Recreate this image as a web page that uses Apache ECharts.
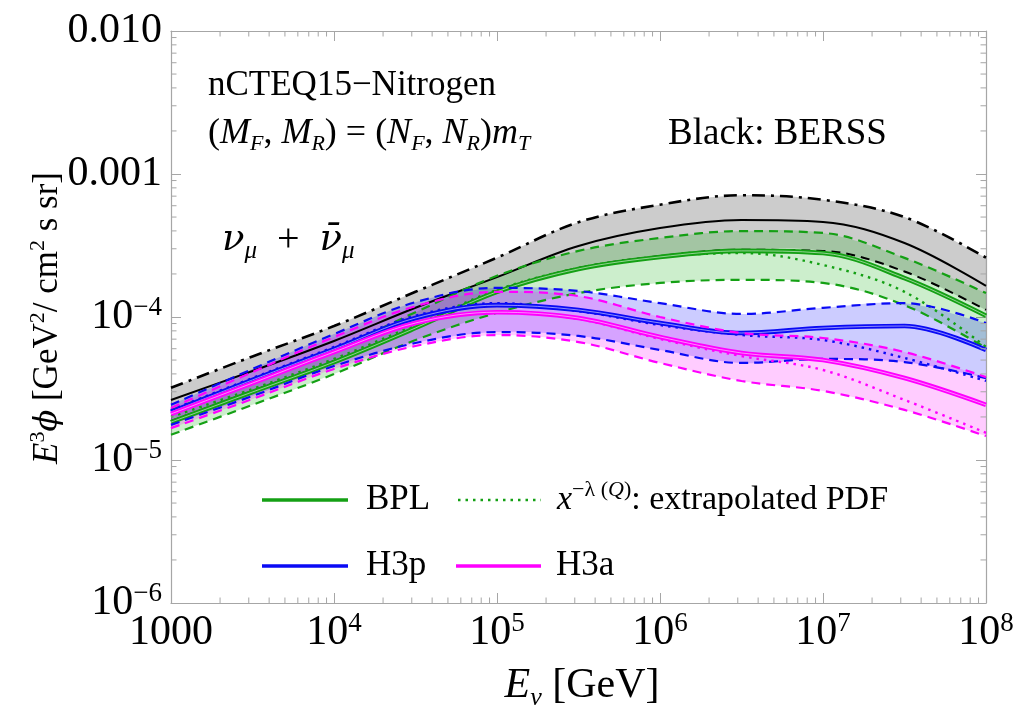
<!DOCTYPE html>
<html><head><meta charset="utf-8">
<script src="https://cdn.jsdelivr.net/npm/echarts@6/dist/echarts.min.js"></script>
<style>html,body{margin:0;padding:0;background:#fff}#c{width:1014px;height:708px}</style>
</head><body><div id="c"></div>
<script>
// ---- data (E in GeV, E^3 phi in GeV^2 / cm^2 s sr) ----
const energy = [1000, 3162, 10000, 31623, 100000, 316228, 1000000, 3162278, 10000000, 31622777, 100000000];

const berssUpper   = [3.2e-5, 5.3e-5, 8.65e-5, 1.5e-4, 2.6e-4, 4.6e-4, 6.1e-4, 7.1e-4, 6.6e-4, 5.0e-4, 2.6e-4];
const berssCentral = [2.63e-5, 4.19e-5, 6.8e-5, 1.16e-4, 1.9e-4, 3.14e-4, 4.19e-4, 4.77e-4, 4.62e-4, 3.29e-4, 1.65e-4];
const berssLower   = [1.87e-5, 3.04e-5, 4.92e-5, 8.5e-5, 1.52e-4, 2.2e-4, 2.67e-4, 2.95e-4, 2.9e-4, 2.08e-4, 1.12e-4];

const bplUpper   = [2.24e-5, 3.63e-5, 5.88e-5, 1.08e-4, 1.94e-4, 2.9e-4, 3.57e-4, 3.99e-4, 3.87e-4, 2.59e-4, 1.47e-4];
const bplCentral = [1.84e-5, 2.99e-5, 4.84e-5, 8.38e-5, 1.5e-4, 2.17e-4, 2.63e-4, 2.9e-4, 2.8e-4, 1.87e-4, 1.02e-4];
const bplLower   = [1.5e-5, 2.43e-5, 3.99e-5, 6.9e-5, 1.07e-4, 1.47e-4, 1.73e-4, 1.82e-4, 1.73e-4, 1.21e-4, 6.07e-5];
const bplExtrap  = [2.0e-5, 3.14e-5, 5.09e-5, 8.79e-5, 1.545e-4, 2.2e-4, 2.63e-4, 2.8e-4, 2.31e-4, 1.5e-4, 6.17e-5];

const h3pUpper   = [2.43e-5, 4.33e-5, 7.6e-5, 1.27e-4, 1.6e-4, 1.52e-4, 1.25e-4, 1.05e-4, 1.16e-4, 1.25e-4, 9.08e-5];
const h3pCentral = [2.17e-5, 3.63e-5, 5.97e-5, 9.84e-5, 1.21e-4, 1.12e-4, 9.08e-5, 7.73e-5, 8.38e-5, 8.65e-5, 5.88e-5];
const h3pLower   = [1.76e-5, 2.8e-5, 4.54e-5, 6.58e-5, 7.85e-5, 7.37e-5, 5.88e-5, 4.77e-5, 5.09e-5, 4.84e-5, 3.74e-5];
const h3pExtrap  = [2.24e-5, 3.74e-5, 6.17e-5, 1.02e-4, 1.25e-4, 1.1e-4, 8.79e-5, 7.48e-5, 6.9e-5, 5.17e-5, 3.57e-5];

const h3aUpper   = [2.31e-5, 4.12e-5, 7.25e-5, 1.19e-4, 1.5e-4, 1.4e-4, 1.0e-4, 7.73e-5, 7.13e-5, 5.69e-5, 3.8e-5];
const h3aCentral = [2.1e-5, 3.45e-5, 5.69e-5, 9.08e-5, 1.08e-4, 9.84e-5, 7.25e-5, 5.6e-5, 5.0e-5, 3.74e-5, 2.43e-5];
const h3aLower   = [1.67e-5, 2.67e-5, 4.33e-5, 6.27e-5, 7.48e-5, 6.68e-5, 4.77e-5, 3.57e-5, 3.04e-5, 2.24e-5, 1.47e-5];
const h3aExtrap  = [2.1e-5, 3.45e-5, 5.69e-5, 9.08e-5, 1.08e-4, 9.68e-5, 7.02e-5, 5.33e-5, 4.26e-5, 2.63e-5, 1.55e-5];

// tick labels: [base, superscript]
const xTickValues = [1e3, 1e4, 1e5, 1e6, 1e7, 1e8];
const xTickLabels = [['1000', ''], ['10', '4'], ['10', '5'], ['10', '6'], ['10', '7'], ['10', '8']];
const yTickValues = [1e-6, 1e-5, 1e-4, 1e-3, 1e-2];
const yTickLabels = [['10', '\u22126'], ['10', '\u22125'], ['10', '\u22124'], ['0.001', ''], ['0.010', '']];
// minor tick multipliers inside each decade
const minorSteps = [2, 3, 4, 5, 6, 7, 8, 9];

// ---- drawing ----
const FONT = '"Liberation Serif", "Times New Roman", serif';
const SMOOTH = 0.35;
const GREEN = '#14a014', BLUE = '#0a0af5', MAGENTA = '#ff00ff', BLACK = '#000000';
const FRAME = '#a6a6a6';
const X_MIN = 1e3, X_MAX = 1e8, Y_MIN = 1e-6, Y_MAX = 1e-2;

function tickLabel(v, vals, labels) {
  const lv = Math.log10(v);
  for (let i = 0; i < vals.length; i++) {
    if (Math.abs(Math.log10(vals[i]) - lv) < 1e-6) {
      const [b, s] = labels[i];
      return s ? '{m|' + b + '}{s|' + s + '}' : '{m|' + b + '}';
    }
  }
  return '';
}
const labelRich = {
  m: { fontFamily: FONT, fontSize: 42, color: '#000', lineHeight: 46 },
  s: { fontFamily: FONT, fontSize: 27, color: '#000', lineHeight: 25, verticalAlign: 'top' }
};
function axisCommon(extra) {
  return Object.assign({
    type: 'log', logBase: 10,
    axisLine: { show: true, onZero: false, lineStyle: { color: FRAME, width: 1.2 } },
    axisTick: { show: true, inside: true, length: 10, lineStyle: { color: FRAME, width: 1 } },
    minorTick: { show: false },
    splitLine: { show: false }, minorSplitLine: { show: false }
  }, extra);
}

// minor tick positions built from the decade boundaries
const minorX = [], minorY = [];
for (let d = Math.log10(X_MIN); d < Math.log10(X_MAX); d++) minorSteps.forEach(k => minorX.push(k * Math.pow(10, d)));
for (let d = Math.log10(Y_MIN); d < Math.log10(Y_MAX); d++) minorSteps.forEach(k => minorY.push(k * Math.pow(10, d)));

function minorTickSeries() {
  return {
    type: 'custom', coordinateSystem: 'cartesian2d', data: [[1e4, 1e-4]], z: 10, silent: true, clip: false,
    renderItem: function (params, api) {
      const children = [];
      const L = 5.5;
      minorX.forEach(v => {
        const b = api.coord([v, Y_MIN]), t = api.coord([v, Y_MAX]);
        children.push({ type: 'line', shape: { x1: b[0], y1: b[1], x2: b[0], y2: b[1] - L }, style: { stroke: FRAME, lineWidth: 1 } });
        children.push({ type: 'line', shape: { x1: t[0], y1: t[1], x2: t[0], y2: t[1] + L }, style: { stroke: FRAME, lineWidth: 1 } });
      });
      minorY.forEach(v => {
        const l = api.coord([X_MIN, v]), r = api.coord([X_MAX, v]);
        children.push({ type: 'line', shape: { x1: l[0], y1: l[1], x2: l[0] + L, y2: l[1] }, style: { stroke: FRAME, lineWidth: 1 } });
        children.push({ type: 'line', shape: { x1: r[0], y1: r[1], x2: r[0] - L, y2: r[1] }, style: { stroke: FRAME, lineWidth: 1 } });
      });
      return { type: 'group', children: children };
    }
  };
}

function band(upper, lower, color) {
  return {
    type: 'custom', coordinateSystem: 'cartesian2d', xAxisIndex: 0, yAxisIndex: 0,
    data: [[10000, 1e-4]], z: 1, silent: true, clip: true,
    renderItem: function (params, api) {
      const up = energy.map((e, i) => api.coord([e, upper[i]]));
      const lo = energy.map((e, i) => api.coord([e, lower[i]])).reverse();
      const pts = [up[0]].concat(up, [up[up.length - 1], lo[0]], lo, [lo[lo.length - 1]]);
      return { type: 'polygon', shape: { points: pts, smooth: SMOOTH }, style: { fill: color } };
    }
  };
}
function line(vals, color, type, width, z, opacity) {
  return {
    type: 'line', data: energy.map((e, i) => [e, vals[i]]), symbol: 'none', showSymbol: false,
    smooth: SMOOTH, z: z, silent: true, clip: true,
    lineStyle: { color: color, width: width, type: type, opacity: opacity == null ? 1 : opacity }
  };
}
const DASH = [9, 6], DOT = [2.5, 5], DASHDOT = [13, 6, 3, 6];

const series = [
  band(berssUpper, berssLower, 'rgba(0,0,0,0.2)'),
  band(bplUpper, bplLower, 'rgba(0,170,0,0.2)'),
  band(h3pUpper, h3pLower, 'rgba(0,0,255,0.2)'),
  band(h3aUpper, h3aLower, 'rgba(255,0,255,0.2)'),

  line(berssUpper, BLACK, DASHDOT, 2.6, 3),
  line(berssCentral, BLACK, 'solid', 2, 3),
  line(berssLower, BLACK, DASH, 2, 3),

  line(bplUpper, GREEN, DASH, 2.2, 4),
  line(bplLower, GREEN, DASH, 2.2, 4),
  line(bplExtrap, GREEN, DOT, 2.4, 4),
  line(bplCentral, GREEN, 'solid', 4.6, 4),
  line(bplCentral, '#ffffff', 'solid', 0.9, 4, 0.6),

  line(h3pUpper, BLUE, DASH, 2.2, 5),
  line(h3pLower, BLUE, DASH, 2.2, 5),
  line(h3pExtrap, BLUE, DOT, 2.4, 5),
  line(h3pCentral, BLUE, 'solid', 4.6, 5),
  line(h3pCentral, '#ffffff', 'solid', 0.9, 5, 0.6),

  line(h3aUpper, MAGENTA, DASH, 2.2, 6),
  line(h3aLower, MAGENTA, DASH, 2.2, 6),
  line(h3aExtrap, MAGENTA, DOT, 2.4, 6),
  line(h3aCentral, MAGENTA, 'solid', 4.6, 6),
  line(h3aCentral, '#ffffff', 'solid', 0.9, 6, 0.6),

  minorTickSeries()
];

const italic = { fontFamily: FONT, fontStyle: 'italic', color: '#000' };
function txt(x, y, text, size, rich, align) {
  return {
    type: 'text', x: x, y: y, z: 50, silent: true,
    style: { text: text, fontFamily: FONT, fontSize: size, fill: '#000', verticalAlign: 'middle', align: align || 'left', lineHeight: Math.round(size * 1.2), rich: rich || {} }
  };
}
function subRich(size) {
  return {
    i: Object.assign({ fontSize: size, lineHeight: Math.round(size * 1.2) }, italic),
    g: { fontFamily: '"DejaVu Serif", serif', fontStyle: 'italic', color: '#000', fontSize: Math.round(size * 0.92), lineHeight: Math.round(size * 1.2) },
    sub: Object.assign({ fontSize: Math.round(size * 0.62), lineHeight: Math.round(size * 0.6), verticalAlign: 'bottom' }, italic),
    sup: { fontFamily: FONT, color: '#000', fontSize: Math.round(size * 0.64), lineHeight: Math.round(size * 0.62), verticalAlign: 'top' },
    supi: Object.assign({ fontSize: Math.round(size * 0.64), lineHeight: Math.round(size * 0.62), verticalAlign: 'top' }, italic)
  };
}

const graphics = [
  txt(208, 86, 'nCTEQ15\u2212Nitrogen', 35),
  txt(208, 134, '({i|M}{sub|F}, {i|M}{sub|R}) = ({i|N}{sub|F}, {i|N}{sub|R}){i|m}{sub|T}', 36, subRich(36)),
  txt(668, 134, 'Black: BERSS', 37),
  txt(222, 240, '{g|\u03bd}{sub|\u03bc}  +  {g|\u03bd\u0304}{sub|\u03bc}', 40, subRich(40)),
  // legend
  { type: 'line', z: 50, silent: true, shape: { x1: 262, y1: 500, x2: 348, y2: 500 }, style: { stroke: GREEN, lineWidth: 3.5 } },
  txt(366, 500, 'BPL', 35),
  { type: 'line', z: 50, silent: true, shape: { x1: 458, y1: 500, x2: 541, y2: 500 }, style: { stroke: GREEN, lineWidth: 2.6, lineDash: DOT } },
  txt(557, 500, '{i|x}{sup|\u2212\u03bb (}{supi|Q}{sup|)}: extrapolated PDF', 34, subRich(34)),
  { type: 'line', z: 50, silent: true, shape: { x1: 262, y1: 566, x2: 348, y2: 566 }, style: { stroke: BLUE, lineWidth: 3.5 } },
  txt(366, 566, 'H3p', 35),
  { type: 'line', z: 50, silent: true, shape: { x1: 456, y1: 566, x2: 541, y2: 566 }, style: { stroke: MAGENTA, lineWidth: 3.5 } },
  txt(556, 566, 'H3a', 35),
  // axis titles
  txt(582, 686, '{i|E}{sub|\u03bd} [GeV]', 42, subRich(42), 'center'),
  Object.assign(txt(48, 318, '{i|E}{sup|3}{g|\u03d5} [GeV{sup|2}/ cm{sup|2} s sr]', 35, subRich(35), 'center'), { rotation: Math.PI / 2 })
];

const chart = echarts.init(document.getElementById('c'), null, { renderer: 'canvas' });
chart.setOption({
  animation: false,
  backgroundColor: '#ffffff',
  grid: { left: 171, right: 28, top: 31, bottom: 105, containLabel: false, outerBoundsMode: 'none' },
  xAxis: [
    axisCommon({ position: 'bottom', min: X_MIN, max: X_MAX,
      axisLabel: { show: true, margin: 7, formatter: v => tickLabel(v, xTickValues, xTickLabels), rich: labelRich, showMinLabel: true, showMaxLabel: true, hideOverlap: false } }),
    axisCommon({ position: 'top', min: X_MIN, max: X_MAX, axisLabel: { show: false } })
  ],
  yAxis: [
    axisCommon({ position: 'left', min: Y_MIN, max: Y_MAX,
      axisLabel: { show: true, margin: 9, formatter: v => tickLabel(v, yTickValues, yTickLabels), rich: labelRich, showMinLabel: true, showMaxLabel: true, hideOverlap: false } }),
    axisCommon({ position: 'right', min: Y_MIN, max: Y_MAX, axisLabel: { show: false } })
  ],
  series: series,
  graphic: graphics
});
</script></body></html>
